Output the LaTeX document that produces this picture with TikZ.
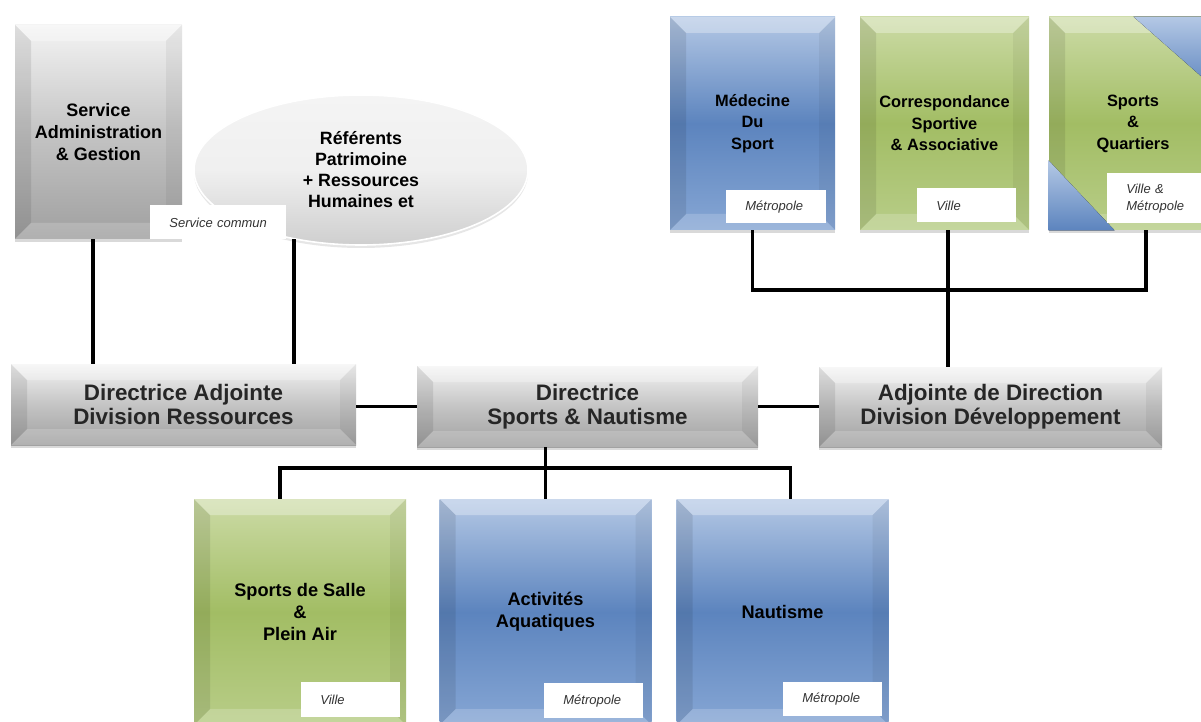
\documentclass[tikz,border=0pt]{standalone}
\usepackage{fontspec}
\setmainfont{Liberation Sans}
\usetikzlibrary{shapes.geometric,shadows}

\definecolor{bluetop}{RGB}{180,200,229}
\definecolor{bluemid}{RGB}{92,132,190}
\definecolor{bluebot}{RGB}{134,166,212}
\definecolor{greentop}{RGB}{204,219,166}
\definecolor{greenmid}{RGB}{162,189,100}
\definecolor{greenbot}{RGB}{184,205,136}
\definecolor{greytop}{RGB}{244,244,244}
\definecolor{greymid}{RGB}{196,196,196}
\definecolor{greybot}{RGB}{160,160,160}

\tikzset{
  bevel/.style={path picture={
      \path (path picture bounding box.north west) coordinate (o1)
            (path picture bounding box.north east) coordinate (o2)
            (path picture bounding box.south east) coordinate (o3)
            (path picture bounding box.south west) coordinate (o4);
      \path ([shift={(#1,-#1)}]o1) coordinate (i1)
            ([shift={(-#1,-#1)}]o2) coordinate (i2)
            ([shift={(-#1,#1)}]o3) coordinate (i3)
            ([shift={(#1,#1)}]o4) coordinate (i4);
      \fill[white,opacity=.3] (o1) -- (o2) -- (i2) -- (i1) -- cycle;
      \fill[black,opacity=.05] (o2) -- (o3) -- (i3) -- (i2) -- cycle;
      \fill[white,opacity=.18] (o3) -- (o4) -- (i4) -- (i3) -- cycle;
      \fill[black,opacity=.09] (o4) -- (o1) -- (i1) -- (i4) -- cycle;
  }},
  bevel/.default=8pt,
  card/.style={rectangle, align=center, inner sep=2pt, text=black,
    top color=#1top, bottom color=#1bot, middle color=#1mid, bevel,
    drop shadow={shadow xshift=0pt, shadow yshift=-1.5pt, opacity=.3},
    font=\bfseries\fontsize{8.2}{10.8}\selectfont},
  bar/.style={card=grey, text=black!85,
    font=\bfseries\fontsize{11.2}{11.8}\selectfont},
  tag/.style={rectangle, fill=white, anchor=north west, inner xsep=9.5pt,
    inner ysep=0pt, align=left, text=black!80,
    font=\itshape\fontsize{6.5}{8.5}\selectfont},
  link/.style={line width=1.8pt, black}
}

\begin{document}
\begin{tikzpicture}[x=0.5pt,y=-0.5pt]
\useasboundingbox (0,0) rectangle (1201,722);

% Left column: service box and referents
\node[card=grey, minimum width=83.5pt, minimum height=107pt,
  font=\bfseries\fontsize{9}{10.8}\selectfont] (admin) at (98.5,132)
  {Service\\Administration\\\& Gestion};
\node[ellipse, minimum width=167pt, minimum height=75pt, inner sep=0pt,
  align=center, top color=greytop, bottom color=gray!38, middle color=gray!12,
  draw=white, line width=0.8pt,
  drop shadow={shadow xshift=0pt, shadow yshift=-1.5pt, opacity=.2},
  font=\bfseries\fontsize{8.9}{10.5}\selectfont] (ref) at (361,170)
  {Référents\\Patrimoine\\+ Ressources\\Humaines et};

% Middle row
\node[bar, minimum width=172.5pt, minimum height=40.5pt] (dirres) at (183.5,404.5) {Directrice Adjointe\\Division Ressources};
\node[bar, minimum width=170.5pt, minimum height=40.5pt] (dir) at (587.5,406.5) {Directrice\\Sports \& Nautisme};
\node[bar, minimum width=171.5pt, minimum height=40pt] (dev) at (990.5,407) {Adjointe de Direction\\Division Développement};

% Top row
\foreach \n/\c/\x/\w/\t in {med/blue/752.5/82.5/{Médecine\\Du\\Sport},
    corr/green/944.5/84.5/{Correspondance\\Sportive\\\& Associative},
    quart/green/1133/84/{Sports\\\&\\Quartiers}}
  \node[card=\c, minimum width=\w pt, minimum height=106.5pt] (\n) at (\x,123.5) {\t};

% blue corners of the shared service
\fill[top color=bluetop, bottom color=bluemid] ([xshift=-42pt]quart.north east) -- (quart.north east) -- ([yshift=-37pt]quart.north east) -- cycle;
\fill[top color=bluetop, bottom color=bluemid] ([yshift=35pt]quart.south west) -- (quart.south west) -- ([xshift=33pt]quart.south west) -- cycle;

% Bottom row
\foreach \n/\c/\x/\t in {salle/green/300/{Sports de Salle\\\&\\Plein Air},
    aqua/blue/545.5/{Activités\\Aquatiques}, naut/blue/782.5/{Nautisme}}
  \node[card=\c, minimum width=106pt, minimum height=113pt,
    font=\bfseries\fontsize{9.1}{10.8}\selectfont] (\n) at (\x,612) {\t};

% Connectors
\coordinate (topbar) at (949,290);
\coordinate (botbar) at (542,468);
\draw[link] (admin.267) -- (admin.267 |- dirres.north);
\draw[link] (ref.226) -- (ref.226 |- dirres.north);
\draw[link] (dir.west) -- (dir.west -| dirres.east);
\draw[link] (dir.east) -- (dir.east -| dev.west);
\draw[link] (med.south) |- (topbar) -| (quart.277.5);
\draw[link] (corr.272) -- (corr.272 |- dev.north);
\draw[link] (aqua.north) -- (aqua.north |- dir.south);
\draw[link] (salle.100) |- (botbar) -| (naut.86);

% Scope labels
\foreach \n/\x/\y/\w/\h/\t in {comm/150/205/49/17/Service commun,
    medlab/726/190/31/16.5/Métropole, corrlab/917/188/30.5/17/Ville,
    quartlab/1107/173/45/25/{Ville \&\\Métropole},
    sallelab/301/682/30.5/17.5/Ville, aqualab/544/683/30.5/17.5/Métropole,
    nautlab/783/682/30.5/17/Métropole}
  \node[tag, text width=\w pt, minimum height=\h pt] (\n) at (\x,\y) {\t};

\end{tikzpicture}
\end{document}
